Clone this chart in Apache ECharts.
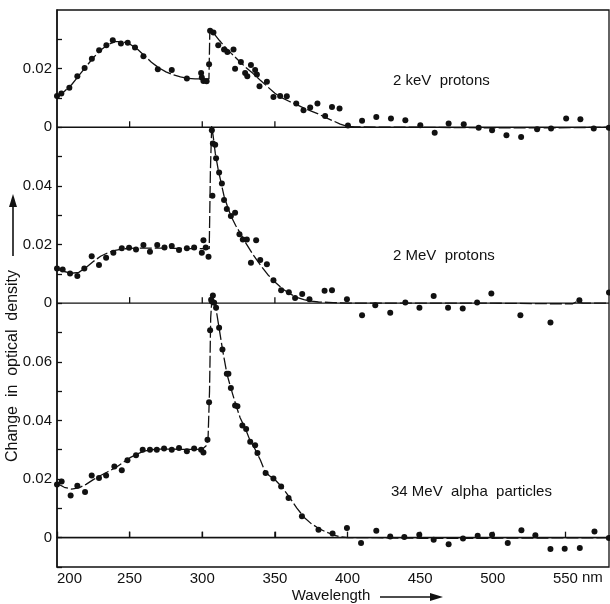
<!DOCTYPE html>
<html><head><meta charset="utf-8">
<script src="https://cdn.jsdelivr.net/npm/echarts@6/dist/echarts.min.js"></script>
<style>html,body{margin:0;padding:0;background:#fff}#c{width:610px;height:604px}</style>
</head><body><div id="c"></div>
<script>
// ---- axis ticks / labels ----
const xTickStep = 50;
const xMin = 200, xMax = 580;
const yTickValues = [0, 0.02, 0.04, 0.06, 0.08, 0.10, 0.12, 0.14, 0.16];
const yTickLabels = ['0', '0.02', '0.04', '0.06', '0', '0.02', '0.04', '0', '0.02'];
const zeroLineTickWl = [250, 300, 350];

// panel baselines (stacked panels share one vertical scale)
const offsetKeV = 0.14, offsetMeV = 0.08, offsetAlpha = 0;

// ---- 2 keV protons ----
const kevDots = [[200,.0107],[203,.0115],[208.5,.0135],[214,.0174],[219,.0202],[224,.0234],[229,.0263],[234,.028],[238.4,.0297],[244,.0286],[248.7,.0288],[253.7,.0272],[259.5,.0242],[269.4,.0198],[279,.0195],[289.4,.0166],[299.2,.0185],[299.7,.017],[300.8,.0158],[303,.0157],[304.7,.0215],[305.4,.0329],[307.7,.0323],[311,.028],[315,.0265],[317.3,.0257],[321.5,.0265],[322.6,.020],[326.6,.0223],[329.5,.0185],[331,.0174],[333.5,.0212],[336.4,.0195],[337.6,.018],[339.4,.014],[344.5,.0155],[349,.0103],[353.6,.0107],[358.2,.0106],[364.7,.0081],[369.7,.0058],[374.3,.0067],[379.3,.0081],[384.6,.0038],[389.3,.0069],[394.5,.0064],[400.3,.0006],[410,.0022],[419.8,.0035],[429.9,.003],[439.8,.0024],[450.1,.0007],[460,-.0019],[469.6,.0013],[480,.001],[490.3,-.0002],[499.5,-.001],[509.4,-.0027],[519.5,-.0033],[530.5,-.0007],[540.1,-.0004],[550.5,.003],[560.3,.0027],[569.5,-.0004],[579.9,-.0002]];
const kevCurve = [[200,.0105],[205,.0122],[210,.0145],[215,.0176],[220,.0207],[225,.0237],[230,.0263],[235,.0282],[240,.0292],[245,.0292],[250,.0284],[255,.0268],[260,.0245],[265,.0222],[270,.0203],[275,.0189],[280,.0179],[285,.0172],[290,.0167],[295,.0165],[300,.0165],[304.6,.0165],[305.2,.0328],[308,.032],[312,.0295],[316,.0272],[320,.0252],[325,.0228],[330,.0204],[335,.0183],[340,.016],[345,.0138],[350,.0116],[355,.0100],[360,.0088],[365,.0077],[370,.0065],[375,.0055],[380,.0045],[385,.0033],[390,.0022],[395,.0011],[400,.0003],[405,.0001],[450,0],[500,-.0002],[540,-.0002],[580,0]];

// ---- 2 MeV protons ----
const mevDots = [[200,.0118],[203.9,.0115],[209,.0101],[214,.0093],[218.8,.0118],[223.9,.016],[228.9,.013],[233.8,.0155],[238.8,.0172],[244.6,.0187],[249.6,.0189],[254.4,.0183],[259.5,.0198],[264,.0175],[269,.0198],[274,.019],[279,.0195],[284,.0181],[289.4,.0187],[294.4,.019],[299.7,.0172],[300.8,.0215],[302.4,.019],[304.3,.0158],[306.6,.059],[307,.0366],[307.3,.0545],[308.9,.054],[309.5,.0494],[311.6,.0446],[313.5,.0408],[315,.0352],[316.9,.0321],[319.7,.0297],[322.6,.0308],[325.6,.0235],[327.9,.0217],[330.7,.0217],[333.5,.0138],[337.1,.0215],[339.9,.0147],[344.5,.0133],[349,.0078],[354.3,.0044],[359.6,.0037],[363.9,.0018],[368.8,.0031],[373.8,.0013],[384.2,.0042],[389.3,.0044],[399.6,.0013],[410,-.0041],[419.1,-.0007],[429.4,-.0033],[439.8,.0002],[449.5,-.0016],[459.3,.0024],[469.2,-.0016],[479.3,-.0018],[489.2,.0002],[499,.0033],[519,-.0041],[539.7,-.0066],[559.6,.001],[580,.0036]];
const mevCurve = [[200,.0115],[205,.0108],[210,.0102],[215,.0105],[220,.0122],[225,.0142],[230,.016],[235,.0172],[240,.018],[245,.0185],[250,.0187],[260,.0188],[270,.0188],[280,.0187],[290,.0186],[300,.0186],[304.8,.0186],[305.6,.045],[306.5,.0605],[307.5,.057],[309,.051],[311,.0455],[313,.041],[315,.0365],[318,.032],[320,.0295],[323,.0265],[326,.024],[330,.0205],[335,.0165],[340,.013],[345,.0098],[350,.0072],[355,.005],[360,.0033],[365,.002],[370,.0012],[375,.0007],[380,.0004],[390,.0002],[400,0],[500,0],[540,-.0002],[555,-.0002],[558,.0006],[562,0],[580,0]];

// ---- 34 MeV alpha particles ----
const alphaDots = [[200,.0181],[203.2,.0192],[209.4,.0144],[214,.0177],[219.3,.0156],[223.9,.0212],[228.9,.0204],[233.8,.0212],[239.5,.0243],[244.6,.023],[248.5,.0264],[254.4,.0281],[259,.030],[264,.030],[268.7,.030],[273.7,.0304],[279,.030],[284,.0306],[289.4,.0295],[294.4,.0304],[299.2,.030],[300.8,.0291],[303.6,.0334],[304.7,.0462],[305.4,.0708],[306.1,.0812],[306.6,.0806],[307.3,.0826],[308.2,.0801],[309.5,.0784],[311.6,.0716],[313.9,.0642],[316.9,.0559],[318,.0559],[319.7,.0511],[322.6,.0451],[324.2,.0448],[327.6,.0383],[330.2,.0371],[333,.0327],[336.4,.0315],[338,.0289],[343.6,.0221],[349,.0202],[354.3,.0175],[359.4,.0135],[368.6,.0073],[380,.0027],[389.7,.0014],[399.6,.0033],[409.3,-.0018],[419.8,.0024],[429.4,.0004],[439.1,.0002],[449.4,.001],[459.3,-.0007],[469.6,-.0022],[479.5,-.0003],[489.6,.0007],[499.5,.001],[510.3,-.0018],[519.7,.0025],[529.3,.0008],[539.7,-.0039],[549.5,-.0038],[559.9,-.0035],[570,.0021],[579.9,-.0001]];
const alphaCurve = [[200,.0185],[205,.0172],[210,.0166],[215,.0170],[220,.0182],[225,.0198],[230,.0212],[235,.0225],[240,.0238],[245,.0255],[250,.0272],[255,.0285],[260,.0295],[265,.0300],[270,.0302],[280,.0302],[290,.0301],[300,.0302],[303,.0315],[304,.034],[305,.05],[305.8,.075],[306.8,.0825],[308,.0808],[309.5,.078],[311.5,.0718],[314,.064],[317,.0558],[320,.0505],[323,.0455],[326,.041],[330,.0368],[333,.033],[336,.0305],[340,.0265],[343,.0228],[346,.0212],[350,.0198],[355,.0172],[360,.0138],[365,.0102],[370,.0070],[375,.0048],[380,.0032],[385,.0020],[390,.0010],[395,.0003],[400,0],[420,0],[450,-.0002],[500,-.0002],[580,0]];

const panelTitles = ['2 keV  protons', '2 MeV  protons', '34 MeV  alpha  particles'];
const yAxisTitle = 'Change  in  optical  density';
const xAxisTitle = 'Wavelength';
const xUnit = 'nm';

const INK = '#111';
const FONT = '"Liberation Sans", Arial, sans-serif';

function shift(arr, off) { return arr.map(p => [p[0], +(p[1] + off).toFixed(6)]); }

const panels = [
  {dots: kevDots, curve: kevCurve, off: offsetKeV},
  {dots: mevDots, curve: mevCurve, off: offsetMeV},
  {dots: alphaDots, curve: alphaCurve, off: offsetAlpha}
];

const series = [];
panels.forEach(p => {
  series.push({
    type: 'line', data: shift(p.curve, p.off), showSymbol: false, symbol: 'none',
    lineStyle: {color: INK, width: 1.3, type: [12, 3]}, silent: true, z: 2, animation: false
  });
  series.push({
    type: 'scatter', data: shift(p.dots, p.off), symbol: 'circle', symbolSize: 6,
    itemStyle: {color: INK, opacity: 1}, silent: true, z: 3, animation: false
  });
  // zero line of the panel
  series.push({
    type: 'line', data: [[xMin, p.off], [xMax, p.off]], symbol: 'none',
    lineStyle: {color: INK, width: 1.3}, silent: true, z: 1, animation: false
  });
  // small ticks on the zero line
  series.push({
    type: 'scatter', data: zeroLineTickWl.map(w => [w, p.off]), symbol: 'rect',
    symbolSize: [1.3, 6], symbolOffset: [0, -3], itemStyle: {color: INK, opacity: 1},
    silent: true, z: 1, animation: false
  });
});

const chart = echarts.init(document.getElementById('c'), null, {renderer: 'canvas'});
chart.setOption({
  animation: false,
  backgroundColor: '#fff',
  grid: {left: 57, right: 1, top: 10, bottom: 37, show: true, borderColor: INK, borderWidth: 1.3, backgroundColor: 'transparent'},
  xAxis: {
    type: 'value', min: xMin, max: xMax, interval: xTickStep,
    axisLine: {show: true, lineStyle: {color: INK, width: 1.3}},
    axisTick: {show: true, inside: true, length: 6, lineStyle: {color: INK, width: 1.3}},
    axisLabel: {color: INK, fontSize: 15, fontFamily: FONT, margin: 4, showMaxLabel: false, alignMinLabel: 'left'},
    splitLine: {show: false}
  },
  yAxis: {
    type: 'value', min: -0.01, max: 0.18, interval: 0.01,
    axisLine: {show: true, lineStyle: {color: INK, width: 1.5}},
    axisTick: {show: true, inside: true, length: 5, lineStyle: {color: INK, width: 1.3}},
    axisLabel: {
      color: INK, fontSize: 15, fontFamily: FONT, margin: 5, showMaxLabel: false,
      formatter: v => {
        const i = yTickValues.findIndex(t => Math.abs(t - v) < 1e-6);
        return i >= 0 ? yTickLabels[i] : '';
      }
    },
    splitLine: {show: false}
  },
  series: series,
  graphic: [
    {type: 'text', style: {x: 393, y: 81, text: panelTitles[0], font: '15px ' + FONT, fill: INK, textVerticalAlign: 'middle'}},
    {type: 'text', style: {x: 393, y: 256, text: panelTitles[1], font: '15px ' + FONT, fill: INK, textVerticalAlign: 'middle'}},
    {type: 'text', style: {x: 391, y: 492, text: panelTitles[2], font: '15px ' + FONT, fill: INK, textVerticalAlign: 'middle'}},
    {type: 'text', x: 13, y: 366, rotation: Math.PI / 2, style: {x: 0, y: 0, text: yAxisTitle, font: '16px ' + FONT, fill: INK, textAlign: 'center', textVerticalAlign: 'middle'}},
    {type: 'line', shape: {x1: 13, y1: 256, x2: 13, y2: 204}, style: {stroke: INK, lineWidth: 1.6}},
    {type: 'polygon', shape: {points: [[13, 194], [9, 207], [17, 207]]}, style: {fill: INK}},
    {type: 'text', style: {x: 331, y: 596, text: xAxisTitle, font: '15px ' + FONT, fill: INK, textAlign: 'center', textVerticalAlign: 'middle'}},
    {type: 'line', shape: {x1: 380, y1: 597, x2: 432, y2: 597}, style: {stroke: INK, lineWidth: 1.6}},
    {type: 'polygon', shape: {points: [[443, 597], [430, 593], [430, 601]]}, style: {fill: INK}},
    {type: 'text', style: {x: 582, y: 578, text: xUnit, font: '15px ' + FONT, fill: INK, textVerticalAlign: 'middle'}}
  ]
});
</script>
</body></html>
